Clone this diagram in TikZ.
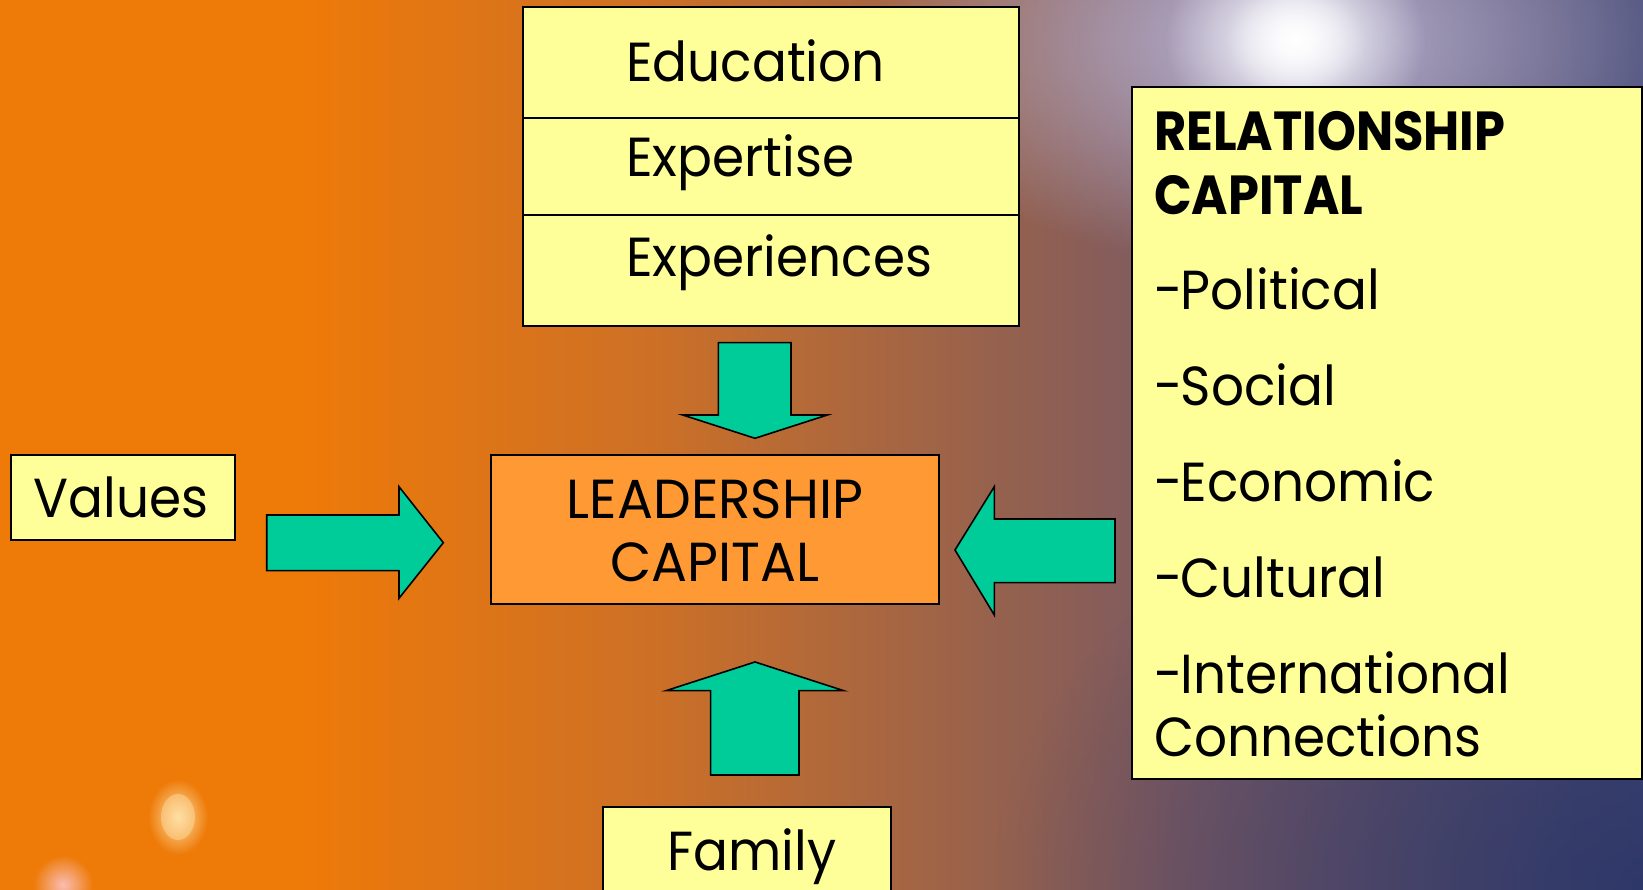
\documentclass[tikz,border=0pt]{standalone}
\usepackage{fontspec}
\setmainfont{Poppins}[FakeStretch=0.94]
\newfontfamily\headfont{Poppins}[FakeStretch=0.9]
\newfontfamily\corefont{Poppins}[FakeStretch=0.97]
\usetikzlibrary{fadings}
\definecolor{notefill}{RGB}{255,255,153}
\definecolor{corefill}{RGB}{255,153,51}
\definecolor{arrowteal}{RGB}{0,204,153}
\definecolor{bgorange}{RGB}{238,122,8}
\definecolor{bgrust}{RGB}{205,112,38}
\definecolor{bgbrown}{RGB}{152,98,76}
\definecolor{bgmauve}{RGB}{124,90,98}
\definecolor{bgnavy}{RGB}{70,74,118}
\definecolor{bgdeep}{RGB}{38,50,100}
\definecolor{bghaze}{RGB}{185,182,215}
\definecolor{speck}{RGB}{255,224,165}
\definecolor{speckpink}{RGB}{250,190,180}
\tikzfading[name=softglow, inner color=transparent!0, outer color=transparent!100]

\begin{document}
\begin{tikzpicture}[
    x=1pt, y=1pt,
    every node/.style={font=\fontsize{55}{66}\selectfont},
    notebox/.style={rectangle, draw=black, fill=notefill, line width=2pt, inner sep=0pt},
    corebox/.style={rectangle, draw=black, fill=corefill, line width=2pt, inner sep=0pt},
    itemtext/.style={anchor=base west, inner sep=0pt},
    headtext/.style={anchor=base west, inner sep=0pt, font=\fontsize{55}{66}\selectfont\headfont\bfseries},
    coretext/.style={anchor=base, inner sep=0pt, font=\fontsize{55}{66}\selectfont\corefont},
    bigarrow/.style={draw=black, fill=arrowteal, line width=1.6pt, line join=miter}
]
\path[use as bounding box] (0,0) rectangle (1643,890);
% backdrop
\begin{scope}
\clip (0,0) rectangle (1643,890);
\fill[bgorange] (0,0) rectangle (301,890);
\shade[left color=bgorange, right color=bgrust] (300,0) rectangle (651,890);
\shade[left color=bgrust, right color=bgbrown] (650,0) rectangle (981,890);
\shade[left color=bgbrown, right color=bgmauve] (980,0) rectangle (1181,890);
\shade[left color=bgmauve, right color=bgnavy] (1180,0) rectangle (1643,890);
\fill[bgdeep, path fading=softglow, fill opacity=0.75] (1643,0) ellipse (650 and 450);
\fill[bghaze, path fading=softglow] (1290,850) ellipse (430 and 230);
\fill[white, path fading=softglow] (1295,850) ellipse (130 and 110);
\fill[white, path fading=softglow, fill opacity=0.8] (1295,850) ellipse (70 and 60);
% specks of light
\fill[speck, path fading=softglow] (178,73) ellipse (30 and 38);
\fill[speck, fill opacity=0.45] (178,73) ellipse (17 and 23);
\fill[speckpink, path fading=softglow] (63,5) circle (30);
\end{scope}

% top stack
\node[notebox, minimum width=496pt, minimum height=319pt] (stack) at (771,723.5) {};
\draw[line width=2pt] (stack.west |- 0,771.7) -- (stack.east |- 0,771.7);
\draw[line width=2pt] (stack.west |- 0,675) -- (stack.east |- 0,675);
\node[itemtext] (education) at (626,808.3) {Education};
\node[itemtext] (expertise) at (626,713.3) {Expertise};
\node[itemtext] (experiences) at (626,613.3) {Experiences};

% centre
\node[corebox, minimum width=448.6pt, minimum height=149pt] (leader) at (715,360.5) {};
\node[coretext] (leaderA) at (715,371.7) {LEADERSHIP};
\node[coretext] (leaderB) at (715,308.3) {CAPITAL};

% left
\node[notebox, minimum width=224.3pt, minimum height=85pt] (values) at (122.85,392.5) {};
\node[itemtext] (valuesText) at (33.3,372.3) {Values};

% bottom
\node[notebox, minimum width=288pt, minimum height=100pt] (family) at (747,33) {};
\node[itemtext] (familyText) at (667.5,19.3) {Family};

% right
\node[notebox, minimum width=510pt, minimum height=692.6pt] (relation) at (1386.7,457) {};
\node[headtext] (relA) at (1154,739.3) {RELATIONSHIP};
\node[headtext] (relB) at (1154,675.7) {CAPITAL};
\node[itemtext] (political) at (1154,580) {-\kern-2pt Political};
\node[itemtext] (social) at (1154,484) {-\kern-2pt Social};
\node[itemtext] (economic) at (1154,388.3) {-\kern-2pt Economic};
\node[itemtext] (cultural) at (1154,292.3) {-\kern-2pt Cultural};
\node[itemtext] (intl) at (1154,196) {-\kern-2pt International};
\node[itemtext] (connections) at (1154,133.3) {Connections};

% block arrows
\draw[bigarrow] (718.3,547.3) -- (791,547.3) -- (791,475) -- (827.3,475) -- (755,451.7) -- (682.7,475) -- (718.3,475) -- cycle;
\draw[bigarrow] (266.7,375) -- (399,375) -- (399,403.3) -- (443.3,347.3) -- (399,291.7) -- (399,319.3) -- (266.7,319.3) -- cycle;
\draw[bigarrow] (1115,371) -- (994.3,371) -- (994.3,403.3) -- (955,340) -- (994.3,275) -- (994.3,307.3) -- (1115,307.3) -- cycle;
\draw[bigarrow] (710.6,115) -- (799,115) -- (799,199.3) -- (843.7,199.3) -- (755,228) -- (666,199.3) -- (710.6,199.3) -- cycle;
\end{tikzpicture}
\end{document}
